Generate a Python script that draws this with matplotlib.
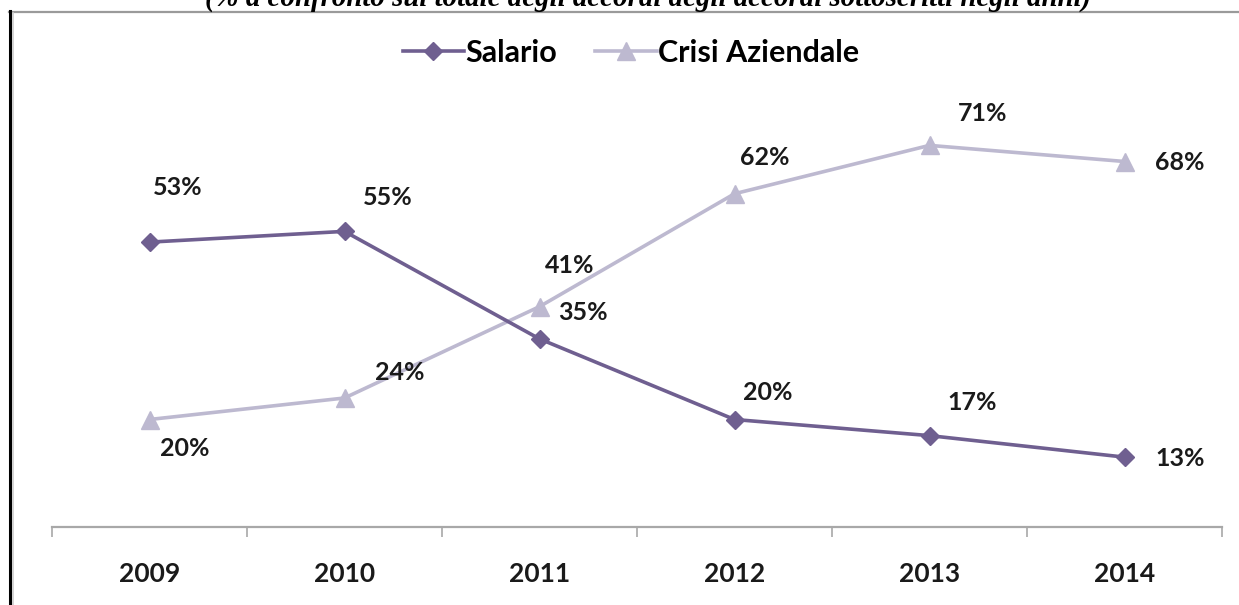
import matplotlib.pyplot as plt
from matplotlib.lines import Line2D

# Data
years = ['2009', '2010', '2011', '2012', '2013', '2014']
salario = [53, 55, 35, 20, 17, 13]
crisi = [20, 24, 41, 62, 71, 68]

# Label offsets from the marker (pixels, x right / y up)
salario_off = [(28, 55), (43, 34), (43, 26), (33, 27), (43, 33), (56, -1)]
crisi_off = [(35, -29), (55, 25), (30, 41), (30, 36), (53, 32), (55, -1)]

W, H = 1239, 605
fig = plt.figure(figsize=(W / 100, H / 100), dpi=100)
ax = fig.add_axes([52 / W, 78 / H, 1170 / W, 516 / H])

x = list(range(len(years)))
c_sal = '#6f5f90'
c_cri = '#bdb9d0'

ax.plot(x, salario, color=c_sal, lw=2.6, marker='D', markersize=9.5, label='Salario', zorder=3)
ax.plot(x, crisi, color=c_cri, lw=2.6, marker='^', markersize=12.5, label='Crisi Aziendale', zorder=2)

# Data labels
px = 0.72  # pixel -> point
for i, v in enumerate(salario):
    ax.annotate(f'{v}%', (x[i], v), xytext=(salario_off[i][0] * px, salario_off[i][1] * px),
                textcoords='offset points', ha='center', va='center',
                fontsize=18, fontweight='bold', fontfamily='Lato', color='#1a1a1a')
for i, v in enumerate(crisi):
    ax.annotate(f'{v}%', (x[i], v), xytext=(crisi_off[i][0] * px, crisi_off[i][1] * px),
                textcoords='offset points', ha='center', va='center',
                fontsize=18, fontweight='bold', fontfamily='Lato', color='#1a1a1a')

# Axes styling
ax.set_xlim(-0.5, len(years) - 0.5)
ax.set_ylim(0, 96)
for s in ['left', 'right', 'top']:
    ax.spines[s].set_visible(False)
ax.spines['bottom'].set_color('#a8a8a8')
ax.spines['bottom'].set_linewidth(1.6)
ax.set_yticks([])
ax.set_xticks(x)
ax.set_xticklabels(years, fontsize=19, fontweight='bold', fontfamily='Lato', color='#1a1a1a')
ax.set_xticks([i - 0.5 for i in range(len(years) + 1)], minor=True)
ax.tick_params(axis='x', which='major', length=0, pad=25)
ax.tick_params(axis='x', which='minor', length=7, width=1.2, color='#a8a8a8', direction='out')

# Legend
fig.legend(loc='center', bbox_to_anchor=(631 / W, 1 - 53 / H), ncol=2, frameon=False,
           handlelength=2.0, columnspacing=1.25, handletextpad=0.05,
           prop={'family': 'Lato', 'size': 22, 'weight': 'bold'})

# Cropped title at the very top
fig.text(648 / W, 1 - 6 / H, '(% a confronto sul totale degli accordi degli accordi sottoscritti negli anni)',
         ha='center', va='baseline', fontsize=20.8, fontweight='bold', fontstyle='italic',
         fontfamily='Liberation Serif', color='black')

# Frame lines of the original picture
fig.add_artist(Line2D([9 / W, 1], [1 - 11.5 / H, 1 - 11.5 / H], color='#9a9a9a', lw=1.6))
fig.add_artist(Line2D([10 / W, 10 / W], [0, 1 - 11 / H], color='black', lw=2.2))
fig.add_artist(Line2D([13.5 / W, 13.5 / W], [0, 1 - 13 / H], color='#cccccc', lw=1.2))

fig.savefig('out.png', dpi=100)
